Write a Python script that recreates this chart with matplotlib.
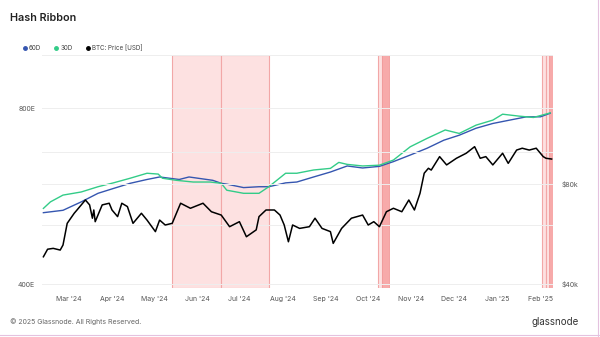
import matplotlib
matplotlib.use("Agg")
import matplotlib.pyplot as plt
import matplotlib.dates as mdates
from matplotlib.lines import Line2D
import pandas as pd

plt.rcParams['font.family'] = ['Inter', 'DejaVu Sans']

# hash rate moving averages (EH/s)
hash_dates = ["2024-02-12", "2024-02-17", "2024-02-26", "2024-03-10", "2024-03-22", "2024-04-02",
              "2024-04-14", "2024-04-26", "2024-05-04", "2024-05-07", "2024-05-17", "2024-05-29",
              "2024-06-10", "2024-06-18", "2024-06-22", "2024-07-04", "2024-07-15", "2024-07-22",
              "2024-08-03", "2024-08-11", "2024-08-23", "2024-09-04", "2024-09-10", "2024-09-16",
              "2024-09-27", "2024-10-09", "2024-10-19", "2024-10-31", "2024-11-12", "2024-11-25",
              "2024-12-05", "2024-12-17", "2024-12-29", "2025-01-05", "2025-01-17", "2025-01-27",
              "2025-02-08"]
hash_30d = [539, 553, 568, 575, 587, 596,
            607, 619, 617, 607, 602, 598,
            598, 595, 579, 572, 572, 587,
            619, 619, 627, 631, 646, 641,
            637, 639, 652, 687, 710, 734,
            724, 748, 763, 781, 775, 771,
            785]

hash60_dates = ["2024-02-12", "2024-02-26", "2024-03-10", "2024-03-22", "2024-04-02", "2024-04-14",
                "2024-04-26", "2024-05-05", "2024-05-19", "2024-05-26", "2024-06-12", "2024-06-18",
                "2024-06-22", "2024-07-04", "2024-07-15", "2024-07-22", "2024-08-03", "2024-08-11",
                "2024-08-23", "2024-09-04", "2024-09-16", "2024-09-27", "2024-10-09", "2024-10-19",
                "2024-10-31", "2024-11-12", "2024-11-24", "2024-12-05", "2024-12-17", "2024-12-29",
                "2025-01-10", "2025-01-22", "2025-02-01", "2025-02-08"]
hash_60d = [530, 535, 553, 572, 583, 595,
            604, 610, 604, 610, 602, 595,
            593, 585, 587, 587, 596, 598,
            610, 622, 637, 632, 636, 648,
            665, 683, 705, 719, 739, 753,
            763, 773, 773, 784]

# BTC price (USD)
price_dates = ["2024-02-12", "2024-02-15", "2024-02-19", "2024-02-24", "2024-02-26", "2024-02-29",
               "2024-03-05", "2024-03-07", "2024-03-13", "2024-03-16", "2024-03-18", "2024-03-19",
               "2024-03-20", "2024-03-25", "2024-03-30", "2024-04-01", "2024-04-05", "2024-04-08",
               "2024-04-12", "2024-04-16", "2024-04-22", "2024-04-26", "2024-05-02", "2024-05-05",
               "2024-05-09", "2024-05-14", "2024-05-20", "2024-05-27", "2024-06-05", "2024-06-11",
               "2024-06-18", "2024-06-24", "2024-07-01", "2024-07-06", "2024-07-13", "2024-07-15",
               "2024-07-20", "2024-07-26", "2024-07-30", "2024-08-02", "2024-08-05", "2024-08-08",
               "2024-08-13", "2024-08-20", "2024-08-24", "2024-08-29", "2024-09-04", "2024-09-06",
               "2024-09-12", "2024-09-19", "2024-09-27", "2024-10-01", "2024-10-05", "2024-10-09",
               "2024-10-14", "2024-10-19", "2024-10-25", "2024-10-30", "2024-11-03", "2024-11-07",
               "2024-11-10", "2024-11-13", "2024-11-15", "2024-11-21", "2024-11-26", "2024-12-03",
               "2024-12-10", "2024-12-16", "2024-12-20", "2024-12-24", "2024-12-29", "2025-01-05",
               "2025-01-09", "2025-01-15", "2025-01-19", "2025-01-24", "2025-01-29", "2025-02-03",
               "2025-02-05", "2025-02-09"]
btc_price = [48300, 50900, 51200, 50600, 52400, 60900,
             65300, 66800, 71600, 69200, 63100, 66800,
             61600, 69200, 70000, 66800, 63800, 70000,
             68400, 60900, 65300, 62300, 57500, 62300,
             60200, 60900, 70000, 67600, 70000, 66000,
             64500, 59500, 61600, 55500, 58200, 63800,
             66800, 66800, 64500, 60200, 53600, 60200,
             58800, 59500, 63100, 58800, 57500, 53000,
             58800, 63100, 64500, 60200, 61600, 59500,
             66000, 67600, 66000, 71600, 66800, 75000,
             86200, 89200, 88100, 96700, 91300, 95600,
             99000, 103600, 95600, 96700, 91300, 99000,
             92300, 101200, 102500, 101200, 102500, 96700,
             95600, 95100]

# miner capitulation periods
capitulation = [("2024-05-14", "2024-06-18"), ("2024-06-18", "2024-07-22"),
                ("2024-10-08", "2024-10-11"), ("2025-02-02", "2025-02-05"),
                ("2025-02-05", "2025-02-10")]
deep_capitulation = [("2024-10-11", "2024-10-16"), ("2025-02-07", "2025-02-10")]

month_ticks = pd.date_range("2024-03-01", "2025-02-01", freq="MS")

fig = plt.figure(figsize=(6, 3.37), dpi=100)
ax = fig.add_axes([0.07, 0.1454, 0.8517, 0.6914])
ax2 = ax.twinx()

for start, end in capitulation:
    ax.axvspan(pd.Timestamp(start), pd.Timestamp(end), facecolor='#fde1e1',
               edgecolor='#f2a7a7', linewidth=0.8, zorder=0)
for start, end in deep_capitulation:
    ax.axvspan(pd.Timestamp(start), pd.Timestamp(end), facecolor='#f7aaaa',
               edgecolor='#f19a9a', linewidth=0.6, zorder=0)

ax.plot(pd.to_datetime(hash60_dates), hash_60d, color='#3556b0', lw=1.0, zorder=3)
ax.plot(pd.to_datetime(hash_dates), hash_30d, color='#33cc88', lw=1.0, zorder=3)
ax2.plot(pd.to_datetime(price_dates), btc_price, color='black', lw=1.1, zorder=3)

ax.set_yscale('log')
ax.set_ylim(394, 986)
ax.set_yticks([400, 800])
ax.set_yticklabels(['400E', '800E'])
ax.yaxis.set_minor_locator(matplotlib.ticker.NullLocator())

ax2.set_yscale('log')
ax2.set_ylim(38900, 195600)
ax2.set_yticks([40000, 60000, 80000, 100000])
ax2.set_yticklabels(['$40k', '', '$80k', ''])
ax2.yaxis.set_minor_locator(matplotlib.ticker.NullLocator())

ax.set_xlim(pd.Timestamp("2024-02-11"), pd.Timestamp("2025-02-10"))
ax.set_xticks(month_ticks)
ax.xaxis.set_major_formatter(mdates.DateFormatter("%b '%y"))

for a in (ax, ax2):
    for s in a.spines.values():
        s.set_visible(False)
    a.tick_params(length=0, labelsize=5, colors='#555555')
ax.tick_params(axis='x', pad=6)
ax.tick_params(axis='y', pad=5)
ax2.tick_params(axis='y', pad=6)

ax.grid(axis='y', color='#eeeeee', lw=0.7)
ax2.grid(axis='y', color='#eeeeee', lw=0.7)
ax.set_axisbelow(True)
ax.axhline(986, color='#eeeeee', lw=0.7)

fig.text(0.017, 0.946, "Hash Ribbon", fontsize=7.8, fontweight='semibold',
         color='#222222', va='center')

handles = [Line2D([], [], marker='o', ls='', color='#3556b0', markersize=2.5),
           Line2D([], [], marker='o', ls='', color='#33cc88', markersize=2.5),
           Line2D([], [], marker='o', ls='', color='black', markersize=2.5)]
fig.legend(handles, ['60D', '30D', 'BTC: Price [USD]'], loc='center left',
           bbox_to_anchor=(0.027, 0.857), ncol=3, frameon=False, fontsize=4.5,
           handletextpad=0.1, columnspacing=2.0, handlelength=1.0,
           labelcolor='#444444')

fig.text(0.017, 0.047, "© 2025 Glassnode. All Rights Reserved.", fontsize=5,
         color='#666666', va='center')
fig.text(0.965, 0.045, "glassnode", fontsize=7, color='#333333', va='center', ha='right')

# thin page border on the right and bottom edges
fig.add_artist(Line2D([0.996, 0.996], [0.0, 1.0], color='#e4c2df', lw=0.8))
fig.add_artist(Line2D([0.0, 1.0], [0.006, 0.006], color='#e4c2df', lw=0.8))

fig.savefig("out.png", dpi=100, facecolor='white')
